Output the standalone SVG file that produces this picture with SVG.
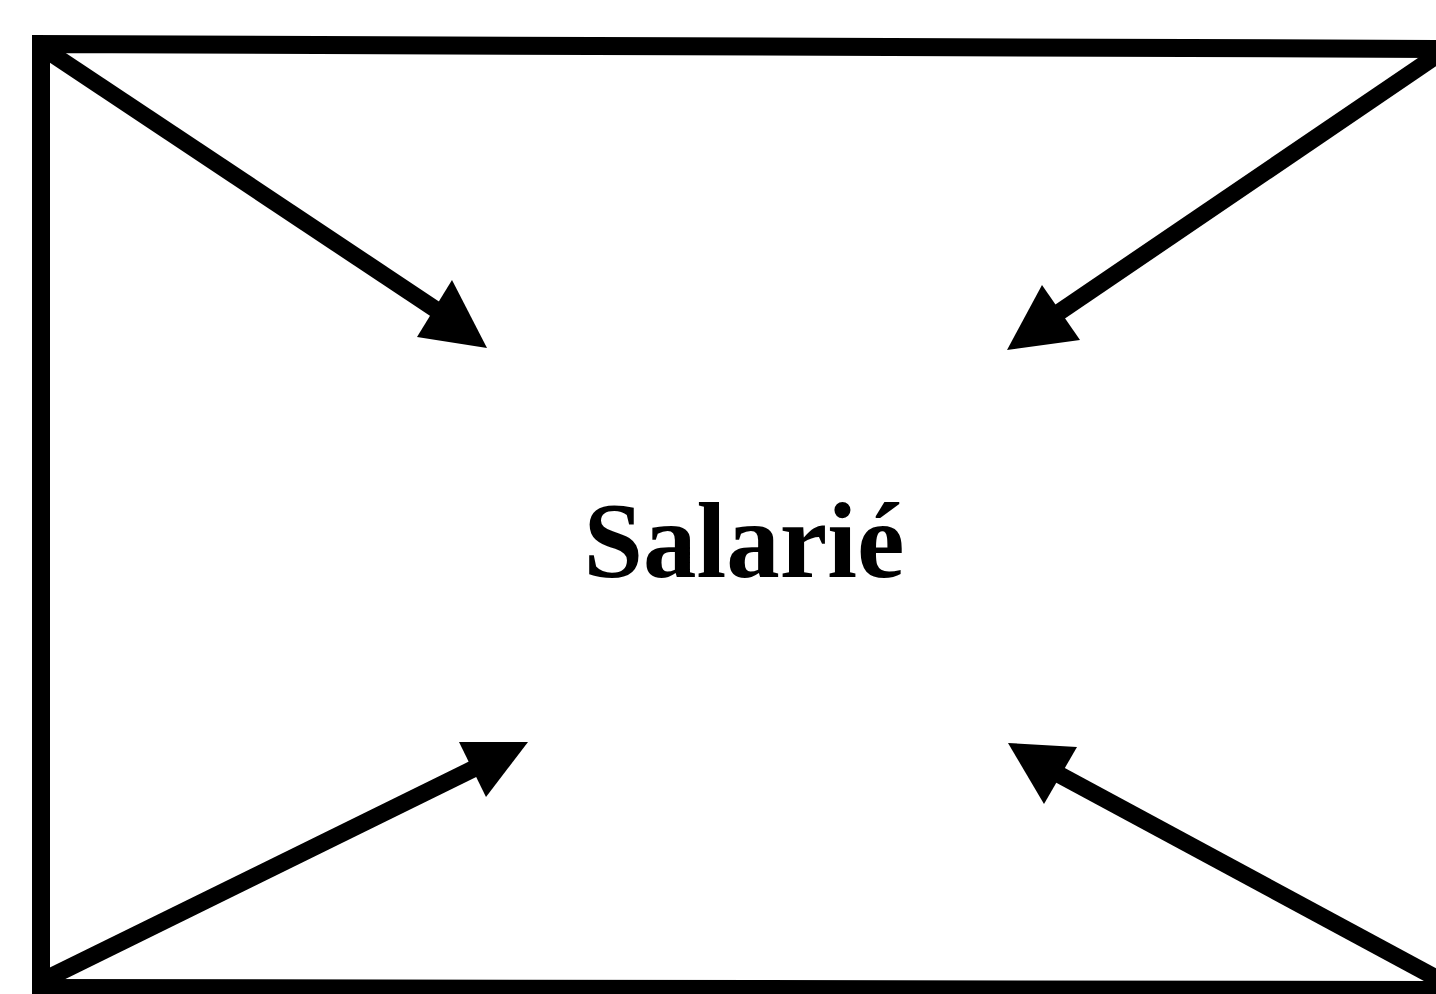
<svg xmlns="http://www.w3.org/2000/svg" width="1436" height="994" viewBox="0 0 1436 994">
<style>
.frame{fill:none;stroke:#000;stroke-width:18}
.conn line{stroke:#000;stroke-width:17;stroke-linecap:butt}
.conn polygon{fill:#000}
.lbl{font-family:"Liberation Serif","Times New Roman",serif;font-weight:bold;font-size:107px;fill:#000}
</style>
<rect width="1436" height="994" fill="#fff"/>
<g id="frame">
<path class="frame" d="M41 1000 L41 44 L1450 49"/>
<path class="frame" d="M32 988 L1450 990"/>
</g>
<g id="connectors" class="conn">
<line x1="46" y1="50" x2="438" y2="311"/>
<polygon points="487,348 452,280 417,337"/>
<line x1="1436" y1="56" x2="1058" y2="313"/>
<polygon points="1007,350 1042,285 1080,340"/>
<line x1="48" y1="978" x2="475" y2="768"/>
<polygon points="528,742 459,742 486,797"/>
<line x1="1440" y1="980" x2="1058" y2="774"/>
<polygon points="1008,743 1077,747 1044,804"/>
</g>
<g id="node-salarie">
<text class="lbl" x="744" y="577" text-anchor="middle">Salarié</text>
</g>
</svg>
